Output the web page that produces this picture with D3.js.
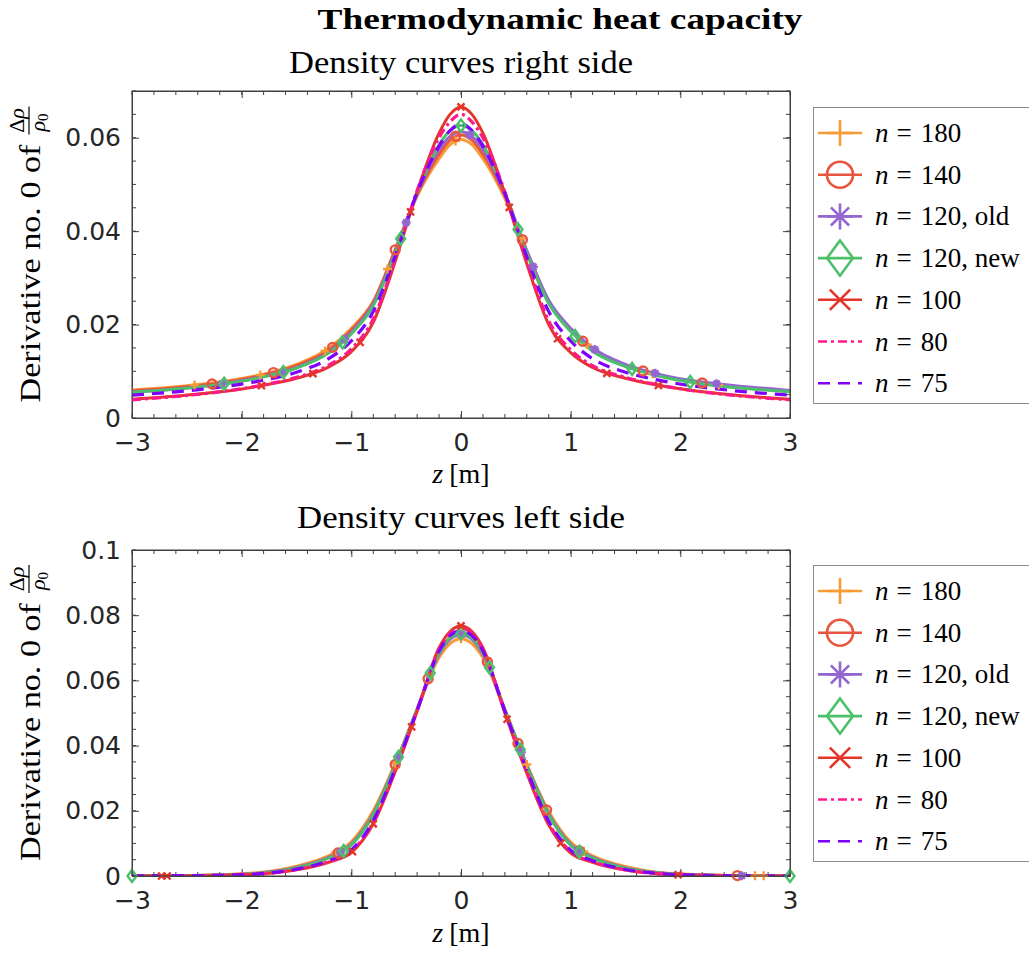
<!DOCTYPE html>
<html><head><meta charset="utf-8">
<script src="https://cdn.jsdelivr.net/npm/d3@7"></script>
<style>body{margin:0;background:#fff} svg{display:block}</style>
</head><body>
<svg id="chart" width="1029" height="961"></svg>
<script>
// ---------------- DATA ----------------
const zGrid = [-3,-2.6,-2.2,-1.8,-1.5,-1.2,-1,-0.8,-0.6,-0.4,-0.2,-0.1,0,0.1,0.2,0.4,0.6,0.8,1,1.2,1.5,1.8,2.2,2.6,3];
const legendLabels = ["180","140","120, old","120, new","100","80","75"];
const xTicks = [-3,-2,-1,0,1,2,3];
const yTicksTop = [0,0.02,0.04,0.06];
const yTicksBottom = [0,0.02,0.04,0.06,0.08,0.1];

// Density curves right side
const rightN180    = [0.0060,0.0067,0.0077,0.0094,0.0115,0.0150,0.0192,0.0250,0.0360,0.0475,0.0555,0.0585,0.0596,0.0585,0.0555,0.0470,0.0355,0.0248,0.0190,0.0148,0.0113,0.0092,0.0075,0.0065,0.0057];
const rightN140    = [0.0058,0.0065,0.0075,0.0092,0.0112,0.0146,0.0188,0.0248,0.0360,0.0478,0.0565,0.0595,0.0606,0.0595,0.0565,0.0476,0.0358,0.0250,0.0190,0.0147,0.0113,0.0092,0.0075,0.0065,0.0057];
const rightN120old = [0.0055,0.0062,0.0072,0.0089,0.0108,0.0142,0.0183,0.0244,0.0355,0.0480,0.0575,0.0603,0.0613,0.0603,0.0575,0.0480,0.0358,0.0252,0.0192,0.0150,0.0115,0.0094,0.0077,0.0067,0.0059];
const rightN120new = [0.0055,0.0062,0.0072,0.0088,0.0107,0.0140,0.0180,0.0240,0.0352,0.0482,0.0585,0.0615,0.0626,0.0615,0.0585,0.0482,0.0352,0.0245,0.0185,0.0143,0.0110,0.0090,0.0073,0.0063,0.0056];
const rightN100    = [0.0040,0.0047,0.0056,0.0070,0.0085,0.0110,0.0142,0.0205,0.0335,0.0485,0.0610,0.0650,0.0666,0.0650,0.0610,0.0480,0.0330,0.0200,0.0140,0.0108,0.0085,0.0070,0.0056,0.0047,0.0040];
const rightN80     = [0.0039,0.0046,0.0056,0.0071,0.0087,0.0114,0.0148,0.0212,0.0340,0.0487,0.0600,0.0634,0.0650,0.0634,0.0600,0.0484,0.0337,0.0208,0.0146,0.0112,0.0087,0.0071,0.0056,0.0046,0.0039];
const rightN75     = [0.0049,0.0056,0.0066,0.0081,0.0098,0.0128,0.0165,0.0228,0.0347,0.0483,0.0582,0.0615,0.0630,0.0615,0.0582,0.0481,0.0345,0.0228,0.0165,0.0127,0.0098,0.0081,0.0066,0.0056,0.0049];

// Density curves left side
const leftN180    = [0,0.0001,0.0004,0.0012,0.0030,0.0063,0.0105,0.0200,0.0345,0.0510,0.0670,0.0713,0.0728,0.0713,0.0670,0.0508,0.0342,0.0198,0.0104,0.0062,0.0029,0.0011,0.0004,0.0001,0];
const leftN140    = [0,0.0001,0.0003,0.0010,0.0026,0.0058,0.0098,0.0192,0.0342,0.0512,0.0685,0.0732,0.0748,0.0732,0.0685,0.0510,0.0340,0.0190,0.0097,0.0057,0.0025,0.0010,0.0003,0.0001,0];
const leftN120old = [0,0.0001,0.0003,0.0010,0.0026,0.0058,0.0097,0.0190,0.0340,0.0510,0.0680,0.0726,0.0740,0.0726,0.0680,0.0509,0.0339,0.0190,0.0097,0.0057,0.0025,0.0010,0.0003,0.0001,0];
const leftN120new = [0,0.0001,0.0003,0.0009,0.0025,0.0056,0.0095,0.0188,0.0340,0.0512,0.0684,0.0731,0.0745,0.0731,0.0684,0.0510,0.0338,0.0187,0.0094,0.0055,0.0024,0.0009,0.0003,0.0001,0];
const leftN100    = [0,0.0000,0.0002,0.0007,0.0019,0.0043,0.0072,0.0160,0.0320,0.0505,0.0700,0.0750,0.0767,0.0750,0.0700,0.0500,0.0315,0.0156,0.0070,0.0042,0.0018,0.0007,0.0002,0.0000,0];
const leftN80     = [0,0.0000,0.0002,0.0007,0.0020,0.0045,0.0076,0.0165,0.0325,0.0508,0.0695,0.0744,0.0760,0.0744,0.0695,0.0505,0.0322,0.0162,0.0075,0.0044,0.0019,0.0007,0.0002,0.0000,0];
const leftN75     = [0,0.0001,0.0002,0.0008,0.0021,0.0048,0.0080,0.0170,0.0328,0.0508,0.0690,0.0738,0.0752,0.0738,0.0690,0.0506,0.0326,0.0168,0.0079,0.0047,0.0020,0.0008,0.0002,0.0001,0];

// marker z positions
const rightMarkZ = [
  [-2.43,-1.83,-1.24,-0.67,-0.05,0.55,1.15,1.75,2.35],
  [-2.27,-1.71,-1.17,-0.6,-0.05,0.56,1.11,1.66,2.2],
  [-2.18,-1.62,-1.06,-0.5,0.08,0.66,1.22,1.77,2.33],
  [-2.16,-1.62,-1.08,-0.55,0,0.52,1.04,1.56,2.09],
  [-1.82,-1.35,-0.92,-0.46,0,0.44,0.88,1.33,1.8]
];
const leftMarkZ = [
  [-1.14,-0.6,0,0.6,1.12,2.68,2.76],
  [-1.12,-0.6,-0.3,0.24,0.52,0.78,1.08,2.52],
  [-1.1,-0.57,0,0.55,1.07,2.56],
  [-3,-1.07,-0.57,-0.28,0,0.26,0.54,1.08,3],
  [-2.73,-2.68,-0.99,-0.8,-0.45,0,0.42,0.91,1.98]
];

// ---------------- STYLE ----------------
const styles = [
  {color:'#F99B35', marker:'plus'},
  {color:'#E8563F', marker:'circle'},
  {color:'#9467D0', marker:'asterisk'},
  {color:'#4CBF6B', marker:'diamond'},
  {color:'#E3362B', marker:'x'},
  {color:'#FF1A8C', marker:null, dash:'9,4,3,4'},
  {color:'#8000FF', marker:null, dash:'12,8'}
];
const serif = "'Liberation Serif','Times New Roman',serif";
const sans = "'DejaVu Sans',sans-serif";
const axisColor = '#404040';
const svg = d3.select('#chart');
svg.append('rect').attr('width',1029).attr('height',961).attr('fill','#fff');

function markerPath(type, s){
  const p = d3.path();
  if(type==='plus'){ p.moveTo(-s,0); p.lineTo(s,0); p.moveTo(0,-s); p.lineTo(0,s); }
  else if(type==='asterisk'){ p.moveTo(-s,0); p.lineTo(s,0); p.moveTo(0,-s); p.lineTo(0,s);
    const d=s*0.7; p.moveTo(-d,-d); p.lineTo(d,d); p.moveTo(-d,d); p.lineTo(d,-d); }
  else if(type==='diamond'){ const h=s*1.35; p.moveTo(0,-h); p.lineTo(s,0); p.lineTo(0,h); p.lineTo(-s,0); p.closePath(); }
  else if(type==='x'){ const d=s*0.78; p.moveTo(-d,-d); p.lineTo(d,d); p.moveTo(-d,d); p.lineTo(d,-d); }
  return p.toString();
}
function drawMarker(g, type, cx, cy, s, color, sw){
  if(type==='circle'){
    g.append('circle').attr('cx',cx).attr('cy',cy).attr('r',s).attr('fill','none').attr('stroke',color).attr('stroke-width',sw);
  } else {
    g.append('path').attr('d',markerPath(type,s)).attr('transform',`translate(${cx},${cy})`)
      .attr('fill','none').attr('stroke',color).attr('stroke-width',sw).attr('stroke-linejoin','miter');
  }
}

function drawYLabel(cy){
  const g = svg.append('g').attr('transform',`translate(40,${cy}) rotate(-90)`);
  const mainW = 258;
  const t = g.append('text').attr('font-family',serif).attr('font-size',30).attr('fill','#000')
    .attr('textLength',mainW).attr('lengthAdjust','spacingAndGlyphs')
    .text('Derivative no. 0 of');
  const fracW = 28, gap = 10;
  const total = mainW + gap + fracW;
  const start = -total/2;
  t.attr('x', start);
  const fx = start + mainW + gap + fracW/2;
  const num = g.append('text').attr('x',fx).attr('y',-16).attr('text-anchor','middle')
    .attr('font-family',serif).attr('font-size',22);
  num.append('tspan').text('Δ');
  num.append('tspan').attr('font-style','italic').text('ρ');
  g.append('line').attr('x1',fx-fracW/2).attr('x2',fx+fracW/2).attr('y1',-11).attr('y2',-11)
    .attr('stroke','#000').attr('stroke-width',1.2);
  const den = g.append('text').attr('x',fx-2).attr('y',5).attr('text-anchor','middle')
    .attr('font-family',serif).attr('font-size',22);
  den.append('tspan').attr('font-style','italic').text('ρ');
  den.append('tspan').attr('font-size',15).attr('dy',3).text('0');
}

function drawPanel(cfg){
  const x = d3.scaleLinear().domain([-3,3]).range([132,790]);
  const y = d3.scaleLinear().domain([0,cfg.yMax]).range([cfg.y0,cfg.y1]);
  const clipId = 'clip'+cfg.id;
  svg.append('clipPath').attr('id',clipId).append('rect')
    .attr('x',132).attr('y',cfg.y1).attr('width',658).attr('height',cfg.y0-cfg.y1);

  // axes box & ticks
  const ag = svg.append('g');
  const minorX = d3.range(-3,3.001,0.2).map(v=>+v.toFixed(1));
  const minorY = d3.range(0,cfg.yMax+1e-9,0.005).map(v=>+v.toFixed(3));
  const bottom = ag.append('g').attr('transform',`translate(0,${cfg.y0})`)
    .call(d3.axisBottom(x).tickValues(xTicks).tickSizeInner(-7).tickSizeOuter(0).tickPadding(15)
      .tickFormat(d3.format('d')));
  const top = ag.append('g').attr('transform',`translate(0,${cfg.y1})`)
    .call(d3.axisTop(x).tickValues(xTicks).tickSizeInner(-7).tickSizeOuter(0).tickFormat(''));
  const left = ag.append('g').attr('transform',`translate(132,0)`)
    .call(d3.axisLeft(y).tickValues(cfg.yTicks).tickSizeInner(-7).tickSizeOuter(0).tickPadding(11)
      .tickFormat(d=> d===0 ? '0' : d3.format('.2~f')(d)));
  const right = ag.append('g').attr('transform',`translate(790,0)`)
    .call(d3.axisRight(y).tickValues(cfg.yTicks).tickSizeInner(-7).tickSizeOuter(0).tickFormat(''));
  [bottom,top,left,right].forEach(a=>{
    a.select('.domain').attr('stroke',axisColor).attr('stroke-width',1);
    a.selectAll('.tick line').attr('stroke',axisColor).attr('stroke-width',1);
    a.selectAll('.tick text').attr('font-family',sans).attr('font-size',25).attr('fill','#262626');
  });
  // minor ticks
  minorX.forEach(v=>{
    ag.append('line').attr('x1',x(v)).attr('x2',x(v)).attr('y1',cfg.y0).attr('y2',cfg.y0-4).attr('stroke',axisColor);
    ag.append('line').attr('x1',x(v)).attr('x2',x(v)).attr('y1',cfg.y1).attr('y2',cfg.y1+4).attr('stroke',axisColor);
  });
  minorY.forEach(v=>{
    ag.append('line').attr('x1',132).attr('x2',136).attr('y1',y(v)).attr('y2',y(v)).attr('stroke',axisColor);
    ag.append('line').attr('x1',790).attr('x2',786).attr('y1',y(v)).attr('y2',y(v)).attr('stroke',axisColor);
  });

  // curves
  const line = d3.line().x((d,i)=>x(zGrid[i])).y(d=>y(d)).curve(d3.curveMonotoneX);
  const plotG = svg.append('g').attr('clip-path',`url(#${clipId})`);
  const markG = svg.append('g');
  cfg.series.forEach((vals,k)=>{
    const st = styles[k];
    const p = plotG.append('path').attr('d',line(vals)).attr('fill','none')
      .attr('stroke',st.color).attr('stroke-width',k>=5?3.2:3)
      .attr('stroke-dasharray',st.dash||null).attr('stroke-linejoin','round');
    if(st.marker){
      const node = p.node(); const total = node.getTotalLength();
      cfg.markers[k].forEach(zm=>{
        const px = x(zm);
        let lo=0, hi=total;
        for(let it=0; it<40; it++){ const mid=(lo+hi)/2; if(node.getPointAtLength(mid).x < px) lo=mid; else hi=mid; }
        const pt = node.getPointAtLength(lo);
        drawMarker(markG, st.marker, px, pt.y, 4.5, st.color, 2.4);
      });
    }
  });
  // redraw box on top
  svg.append('rect').attr('x',132).attr('y',cfg.y1).attr('width',658).attr('height',cfg.y0-cfg.y1)
    .attr('fill','none').attr('stroke',axisColor).attr('stroke-width',1);

  // subtitle
  svg.append('text').attr('x',461).attr('y',cfg.titleY).attr('text-anchor','middle')
    .attr('font-family',serif).attr('font-size',31).attr('textLength',cfg.titleW).attr('lengthAdjust','spacingAndGlyphs')
    .text(cfg.title);
  // x label
  const xl = svg.append('text').attr('x',461).attr('y',cfg.xLabelY).attr('text-anchor','middle')
    .attr('font-family',serif).attr('font-size',28);
  xl.append('tspan').attr('font-style','italic').text('z');
  xl.append('tspan').attr('dx',6).text('[m]');
  drawYLabel((cfg.y0+cfg.y1)/2);

  // legend
  const lg = svg.append('g');
  lg.append('rect').attr('x',813.5).attr('y',cfg.legTop+0.5).attr('width',240).attr('height',296)
    .attr('fill','#fff').attr('stroke','#8c8c8c').attr('stroke-width',1);
  legendLabels.forEach((lab,k)=>{
    const st = styles[k];
    const cy = cfg.legTop + 26 + k*41.7;
    lg.append('line').attr('x1',818).attr('x2',862).attr('y1',cy).attr('y2',cy)
      .attr('stroke',st.color).attr('stroke-width',2.6).attr('stroke-dasharray',st.dash||null);
    if(st.marker) drawMarker(lg, st.marker, 840, cy, 13, st.color, 2.6);
    const t = lg.append('text').attr('x',875).attr('y',cy+9).attr('font-family',serif).attr('font-size',27).attr('fill','#000');
    t.append('tspan').attr('font-style','italic').text('n');
    t.append('tspan').attr('dx',8).text('=');
    t.append('tspan').attr('dx',9).text(lab);
  });
}

// main title
svg.append('text').attr('x',560).attr('y',29).attr('text-anchor','middle')
  .attr('font-family',serif).attr('font-weight','bold').attr('font-size',30)
  .attr('textLength',485).attr('lengthAdjust','spacingAndGlyphs')
  .text('Thermodynamic heat capacity');

drawPanel({id:'top', y0:418, y1:91, yMax:0.07, yTicks:yTicksTop,
  series:[rightN180,rightN140,rightN120old,rightN120new,rightN100,rightN80,rightN75],
  markers:rightMarkZ, title:'Density curves right side', titleY:73, titleW:344,
  xLabelY:483, legTop:107});
drawPanel({id:'bot', y0:876, y1:550, yMax:0.1, yTicks:yTicksBottom,
  series:[leftN180,leftN140,leftN120old,leftN120new,leftN100,leftN80,leftN75],
  markers:leftMarkZ, title:'Density curves left side', titleY:528, titleW:328,
  xLabelY:942, legTop:565});
</script>
</body></html>
